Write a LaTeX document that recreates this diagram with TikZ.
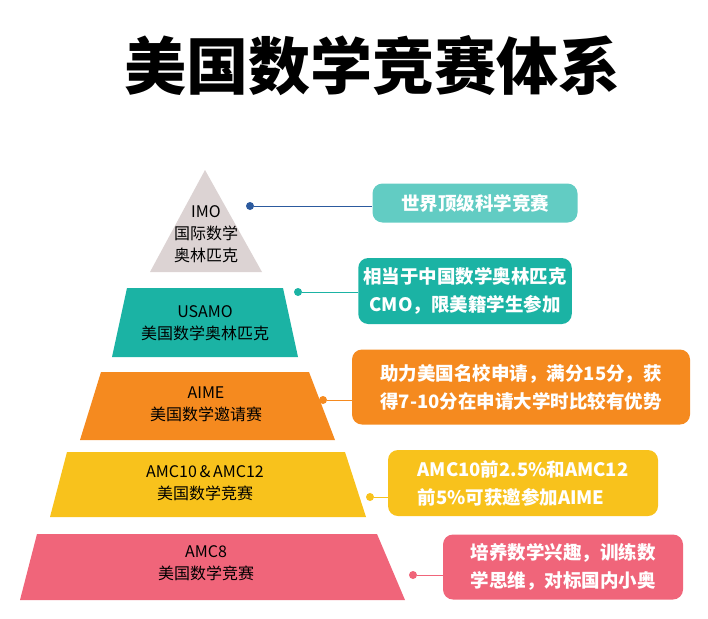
\documentclass[tikz,border=0pt]{standalone}
\usepackage{fontspec}
\setmainfont{Noto Sans CJK SC}
\usetikzlibrary{calc}
\definecolor{imogray}{HTML}{DCD3D3}
\definecolor{teal1}{HTML}{62CCC3}
\definecolor{teal2}{HTML}{1BB3A4}
\definecolor{orng}{HTML}{F58A1F}
\definecolor{yell}{HTML}{F8C21C}
\definecolor{pink}{HTML}{F0657A}
\definecolor{dotblue}{HTML}{2C5A9E}
\tikzset{
    layer/.style = {align=center, font=\fontsize{16}{22}\selectfont, text=black},
    note/.style = {rounded corners=10pt, align=left, text=white,
        font=\fontsize{18.5}{28}\selectfont\bfseries, inner sep=5pt},
    link/.style = {draw, line width=1pt},
    pin/.style = {circle, fill, inner sep=0pt, minimum size=8pt}
}
\begin{document}
\begin{tikzpicture}[x=1pt, y=-1pt]
    \useasboundingbox (0,0) rectangle (708,618);
    \node[font=\fontsize{62}{70}\selectfont\bfseries] (title) at (372,66) {美国数学竞赛体系};
    % pyramid layers
    \fill[imogray] (205,170) -- (262,272) -- (150,272) -- cycle;
    \fill[teal2] (127,288) -- (283,288) -- (298,357) -- (112,357) -- cycle;
    \fill[orng] (101,372) -- (309,372) -- (335,440) -- (80,440) -- cycle;
    \fill[yell] (67,452) -- (345,452) -- (366,517) -- (50,517) -- cycle;
    \fill[pink] (37,534) -- (377,534) -- (405,600) -- (20,600) -- cycle;
    \node[layer] (imo) at (206,234) {IMO\\国际数学\\奥林匹克};
    \node[layer] (usamo) at (205,323) {USAMO\\美国数学奥林匹克};
    \node[layer] (aime) at (206,404) {AIME\\美国数学邀请赛};
    \node[layer] (amc10) at (205,483) {AMC10\,\&\,AMC12\\美国数学竞赛};
    \node[layer] (amc8) at (206,563) {AMC8\\美国数学竞赛};
    % notes
    \node[note, fill=teal1, minimum width=205pt, minimum height=39pt, align=center] (n1) at (475,203) {世界顶级科学竞赛};
    \node[note, fill=teal2, minimum width=196pt, minimum height=66pt, align=center] (n2) at (465,291) {相当于中国数学奥林匹克\\CMO，限美籍学生参加};
    \node[note, fill=orng, minimum width=338pt, minimum height=75pt] (n3) at (521,387) {助力美国名校申请，满分15分，获\\得7-10分在申请大学时比较有优势};
    \node[note, fill=yell, minimum width=270pt, minimum height=66pt] (n4) at (523,483) {AMC10前2.5\%和AMC12\\前5\%可获邀参加AIME};
    \node[note, fill=pink, minimum width=240pt, minimum height=65pt] (n5) at (563,567) {培养数学兴趣，训练数\\学思维，对标国内小奥};
    % pins and links
    \node[pin, fill=dotblue] (p1) at (250,206) {};
    \node[pin, fill=teal2] (p2) at (298,292) {};
    \node[pin, fill=orng] (p3) at (323,400) {};
    \node[pin, fill=yell] (p4) at (370,497) {};
    \node[pin, fill=pink] (p5) at (413,575) {};
    \draw[link, dotblue] (p1) -- (p1 -| n1.west);
    \draw[link, teal2] (p2) -- (p2 -| n2.west);
    \draw[link, orng] (p3) -- (p3 -| n3.west);
    \draw[link, yell] (p4) -- (p4 -| n4.west);
    \draw[link, pink] (p5) -- (p5 -| n5.west);
\end{tikzpicture}
\end{document}
